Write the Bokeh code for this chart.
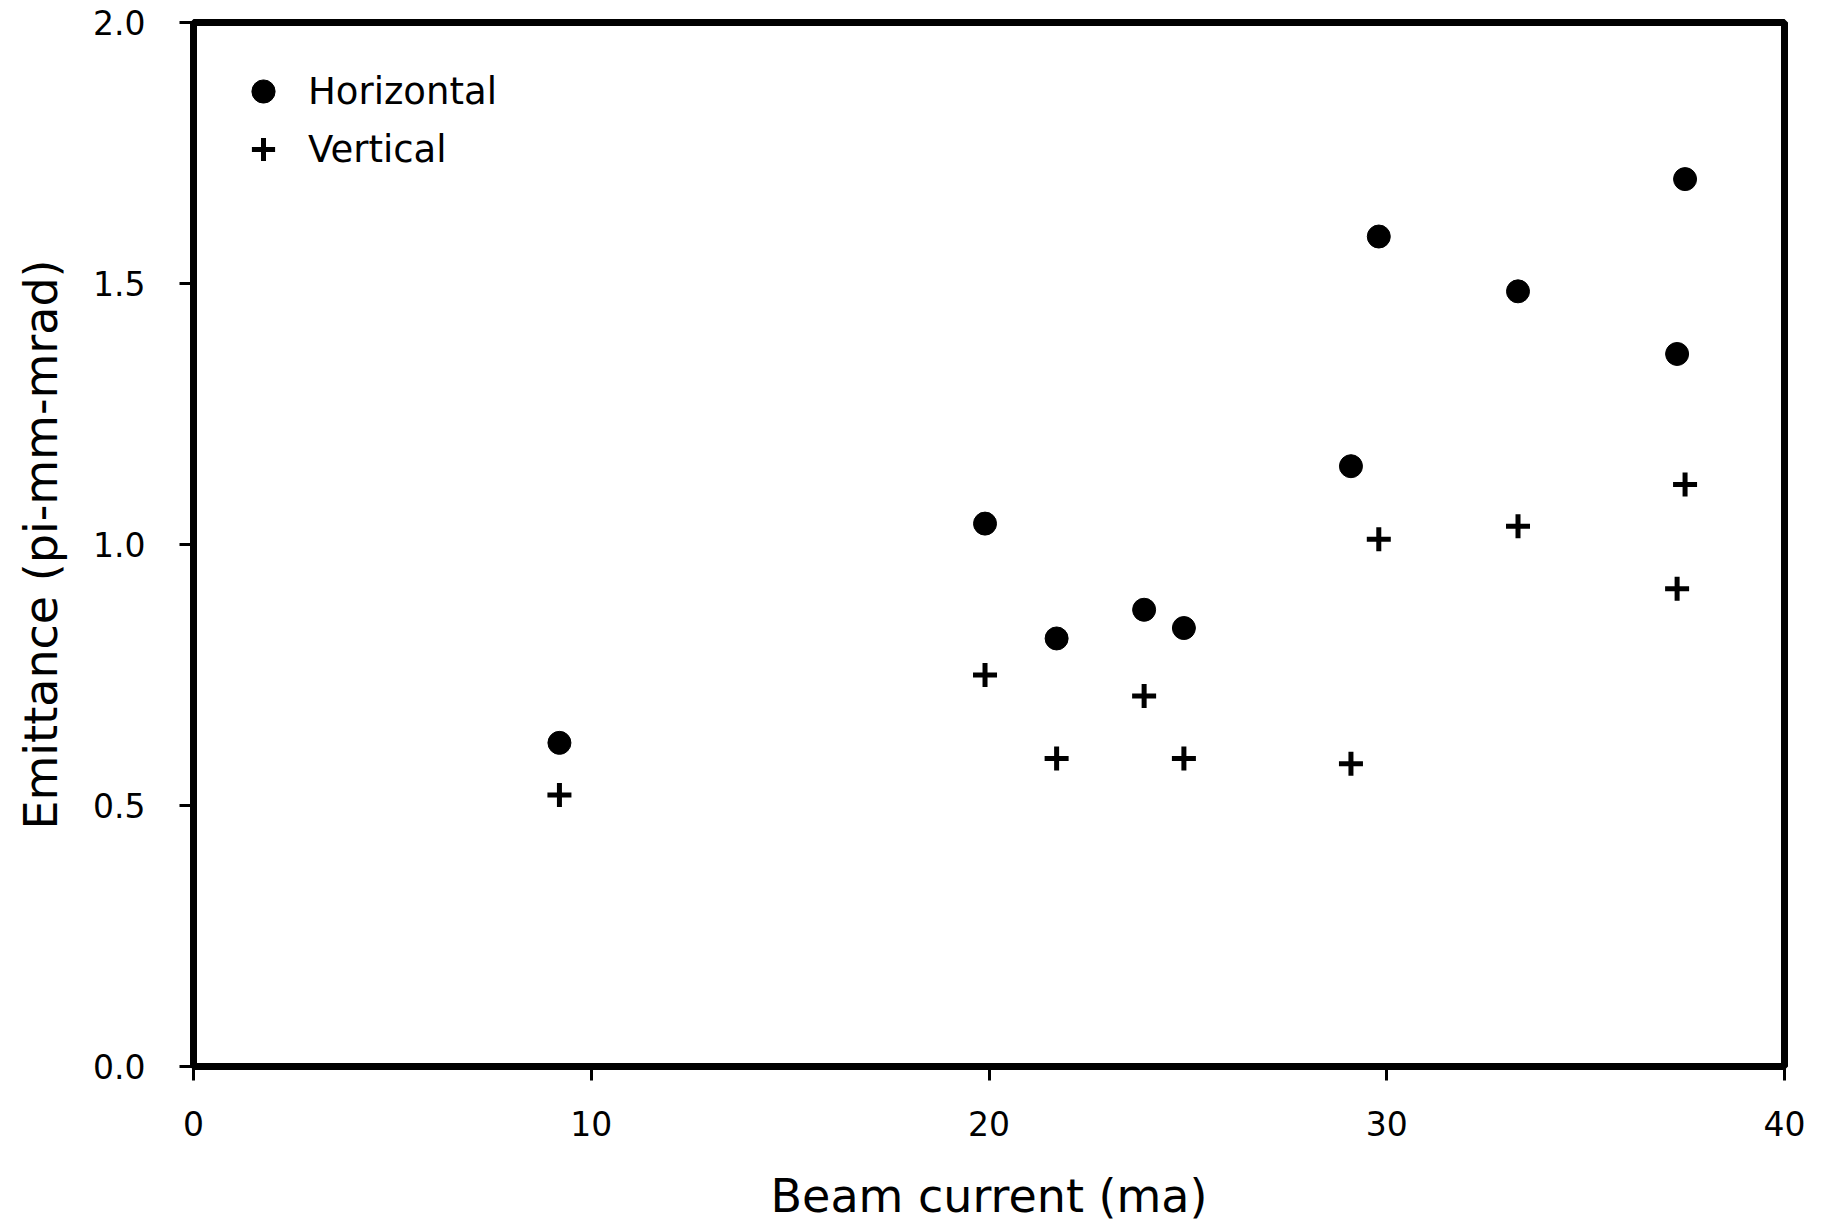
from bokeh.plotting import figure
from bokeh.models import Range1d, Legend, LegendItem, FixedTicker, PrintfTickFormatter
from bokeh.embed import file_html
from bokeh.resources import INLINE

# Data
h_current = [9.2, 19.9, 21.7, 23.9, 24.9, 29.1, 29.8, 33.3, 37.3, 37.5]
h_emittance = [0.62, 1.04, 0.82, 0.875, 0.84, 1.15, 1.59, 1.485, 1.365, 1.70]
v_current = [9.2, 19.9, 21.7, 23.9, 24.9, 29.1, 29.8, 33.3, 37.5, 37.3]
v_emittance = [0.52, 0.75, 0.59, 0.71, 0.59, 0.58, 1.01, 1.035, 1.115, 0.915]
x_ticks = [0, 10, 20, 30, 40]
y_ticks = [0.0, 0.5, 1.0, 1.5, 2.0]
series_labels = ["Horizontal", "Vertical"]
x_title = "Beam current (ma)"
y_title = "Emittance (pi-mm-mrad)"

FONT = "DejaVu Sans"

p = figure(width=1825, height=1225, output_backend="svg", toolbar_location=None,
           x_range=Range1d(0, 40), y_range=Range1d(0, 2),
           min_border_left=193, min_border_right=41, min_border_top=22, min_border_bottom=159)
p.grid.visible = False
p.background_fill_color = "white"
p.border_fill_color = "white"
p.outline_line_color = "black"
p.outline_line_width = 7
p.outline_line_alpha = 1.0

for ax in (p.xaxis[0], p.yaxis[0]):
    ax.axis_line_width = 7
    ax.axis_line_color = "black"
    ax.major_tick_line_width = 3
    ax.major_tick_line_color = "black"
    ax.major_tick_in = 0
    ax.major_tick_out = 14
    ax.minor_tick_line_color = None
    ax.major_label_text_font = FONT
    ax.major_label_text_font_size = "33px"
    ax.major_label_text_color = "black"
    ax.axis_label_text_font = FONT
    ax.axis_label_text_font_size = "46px"
    ax.axis_label_text_font_style = "normal"
    ax.axis_label_text_color = "black"

p.xaxis.ticker = FixedTicker(ticks=x_ticks)
p.yaxis.ticker = FixedTicker(ticks=y_ticks)
p.xaxis.formatter = PrintfTickFormatter(format="%d")
p.yaxis.formatter = PrintfTickFormatter(format="%.1f")
p.xaxis.axis_label = x_title
p.yaxis.axis_label = y_title
p.xaxis.major_label_standoff = 30
p.yaxis.major_label_standoff = 34
p.xaxis.axis_label_standoff = 30
p.yaxis.axis_label_standoff = 22

r_h = p.scatter(h_current, h_emittance, marker="circle", size=23,
                fill_color="black", line_color="black")
r_v = p.scatter(v_current, v_emittance, marker="cross", size=24,
                line_color="black", line_width=5)

legend = Legend(items=[LegendItem(label=series_labels[0], renderers=[r_h]),
                       LegendItem(label=series_labels[1], renderers=[r_v])],
                location=(41, 888))
legend.padding = 0
legend.margin = 0
legend.spacing = 0
legend.glyph_width = 58
legend.glyph_height = 58
legend.label_height = 58
legend.label_standoff = 16
legend.label_text_font = FONT
legend.label_text_font_size = "37px"
legend.label_text_color = "black"
legend.border_line_color = None
legend.background_fill_alpha = 0
p.add_layout(legend)

open("out.html", "w").write(file_html(p, INLINE))
